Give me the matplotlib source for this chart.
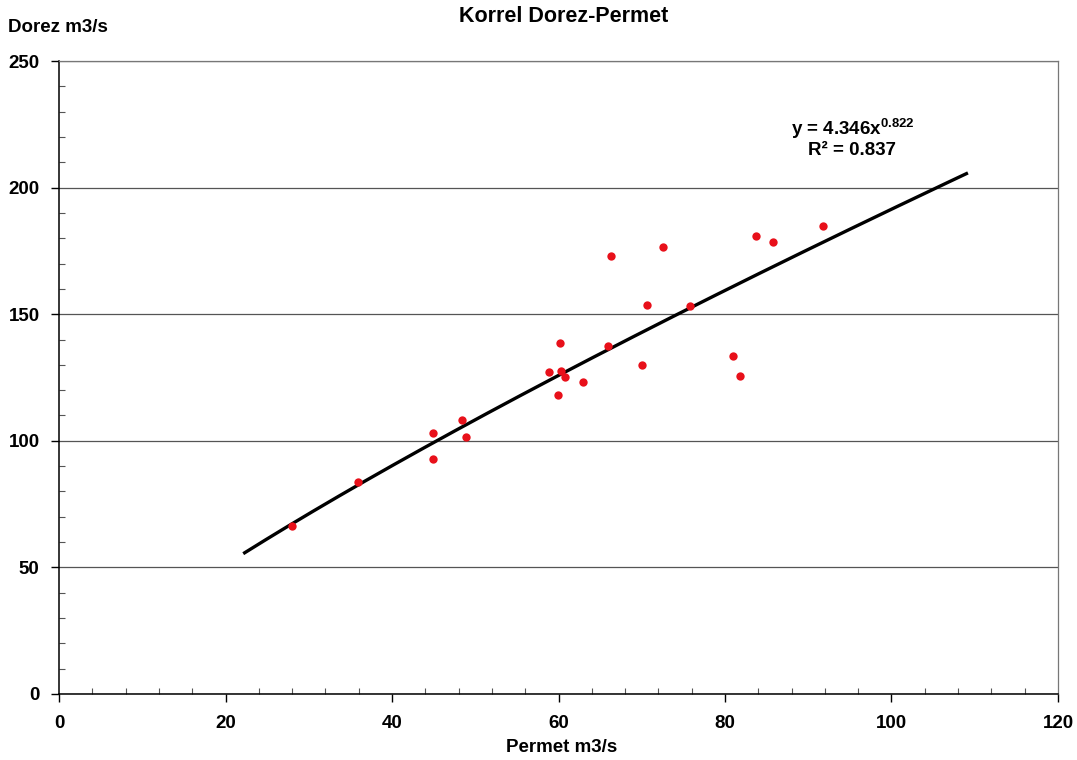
import numpy as np
import matplotlib
matplotlib.use("Agg")
from matplotlib import pyplot as plt
from matplotlib.ticker import MultipleLocator

# Permet (x) vs Dorez (y) discharge, m3/s
permet = [28.0, 35.9, 44.9, 44.9, 48.4, 48.9, 58.9, 60.2, 60.3, 60.8, 59.9, 62.9,
          65.9, 66.3, 70.0, 70.6, 72.6, 75.8, 81.0, 81.8, 83.7, 85.8, 91.8]
dorez = [66.4, 83.7, 103.1, 92.8, 108.2, 101.5, 127.2, 138.6, 127.6, 125.2, 118.1, 123.2,
         137.4, 173.0, 129.9, 153.6, 176.5, 153.2, 133.5, 125.6, 180.9, 178.5, 184.8]

# power trendline y = a * x^b
coef_a = 4.346
coef_b = 0.822
r2 = 0.837
trend_from, trend_to = 22.3, 109.0

plt.rcParams['font.family'] = ['Liberation Sans', 'DejaVu Sans']
plt.rcParams['font.weight'] = 'bold'
plt.rcParams['mathtext.fontset'] = 'custom'
plt.rcParams['mathtext.rm'] = 'Liberation Sans'
plt.rcParams['mathtext.bf'] = 'Liberation Sans:bold'
plt.rcParams['mathtext.default'] = 'bf'

fig = plt.figure(figsize=(10.77, 7.6), dpi=100)
ax = fig.add_axes([59 / 1077, 66 / 760, 999 / 1077, 633 / 760])

ax.set_xlim(0, 120)
ax.set_ylim(0, 250)

ax.yaxis.set_major_locator(MultipleLocator(50))
ax.yaxis.set_minor_locator(MultipleLocator(10))
ax.xaxis.set_major_locator(MultipleLocator(20))
ax.xaxis.set_minor_locator(MultipleLocator(4))
ax.grid(axis='y', which='major', color='#555555', linewidth=0.9)
ax.set_axisbelow(True)

ax.tick_params(which='major', direction='out', length=6, width=1, labelsize=13.5)
ax.tick_params(axis='x', which='major', pad=9)
ax.tick_params(axis='y', which='major', pad=8)
ax.tick_params(which='minor', direction='in', length=4, width=0.8, color='#555555')
for lab in ax.get_xticklabels() + ax.get_yticklabels():
    lab.set_fontweight('bold')

for side in ('top', 'right'):
    ax.spines[side].set_color('#777777')
    ax.spines[side].set_linewidth(0.9)
for side in ('left', 'bottom'):
    ax.spines[side].set_color('black')
    ax.spines[side].set_linewidth(1.1)

xs = np.linspace(trend_from, trend_to, 200)
ax.plot(xs, coef_a * xs ** coef_b, color='black', linewidth=2.4, zorder=3)
ax.plot(permet, dorez, 'o', color='#e8101a', markersize=6, markeredgewidth=0, zorder=4)

ax.text(95.3, 223, r'y = 4.346x$^{\mathrm{0.822}}$', ha='center', va='center',
        fontsize=13.5, fontweight='bold')
ax.text(95.3, 214.5, 'R² = %.3f' % r2, ha='center', va='center',
        fontsize=13.5, fontweight='bold')

fig.text(564 / 1077, 1 - 17 / 760, 'Korrel Dorez-Permet', ha='center', va='center',
         fontsize=15.5, fontweight='bold')
fig.text(8 / 1077, 1 - 27 / 760, 'Dorez m3/s', ha='left', va='center',
         fontsize=13.5, fontweight='bold')
fig.text(562 / 1077, 1 - 747 / 760, 'Permet m3/s', ha='center', va='center',
         fontsize=13.5, fontweight='bold')

fig.savefig('out.png', dpi=100)
